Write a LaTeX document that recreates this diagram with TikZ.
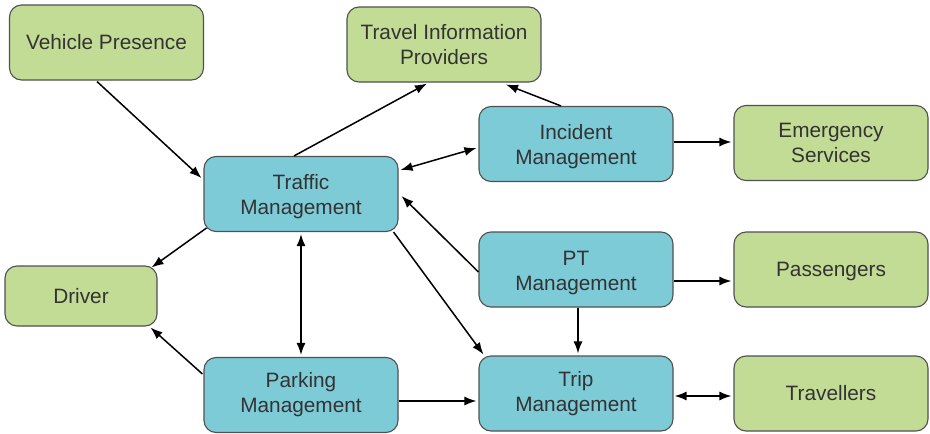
\documentclass[tikz,border=0pt]{standalone}
\usepackage{fontspec}
\setmainfont{Liberation Sans}
\usetikzlibrary{arrows.meta,calc}
\definecolor{boxgreen}{HTML}{C2DC96}
\definecolor{boxblue}{HTML}{7ECBD8}
\definecolor{boxline}{HTML}{505050}
\definecolor{txt}{HTML}{333333}
\newcommand{\highstrut}{\rule{0pt}{20.8pt}}
\tikzset{
  box/.style={draw=boxline, line width=1.1pt, rounded corners=12pt, align=center,
    text=txt, font=\fontsize{20.8}{25}\selectfont, inner sep=0pt,
    minimum width=194pt, minimum height=75pt},
  gbox/.style={box, fill=boxgreen},
  bbox/.style={box, fill=boxblue},
  conn/.style={line width=1.5pt, -{Latex[length=12pt,width=9pt]}},
  conn2/.style={line width=1.5pt, {Latex[length=12pt,width=9pt]}-{Latex[length=12pt,width=9pt]}},
}
\begin{document}
\begin{tikzpicture}[x=1pt,y=-1pt]
\useasboundingbox (0,0) rectangle (930,434);
\node[gbox] (vp) at (106.5,42.5) {Vehicle Presence};
\node[gbox] (tp) at (444,44.5) {Travel Information\\Providers};
\node[bbox] (tm) at (301,194) {\highstrut Traffic\\Management};
\node[bbox] (im) at (576,144) {\highstrut Incident\\Management};
\node[gbox] (es) at (831,143) {Emergency\\Services};
\node[gbox, minimum width=152pt, minimum height=60pt] (dr) at (81,296) {Driver};
\node[bbox] (pt) at (576,269.5) {\highstrut PT\\Management};
\node[gbox] (pa) at (831,269.5) {\rule{0pt}{19pt}Passengers};
\node[bbox] (pk) at (301,395) {Parking\\Management};
\node[bbox] (tr) at (576,393.5) {Trip\\Management};
\node[gbox] (tv) at (831,393.5) {Travellers};

\draw[conn] ($(vp.south)+(-9.5,1)$) -- ($(tm.west)+(-2,-16)$);
\draw[conn] ($(tm.north)+(-7,0)$) -- ($(tp.south)+(-17,1)$);
\draw[conn] ($(im.north)+(-15,0)$) -- ($(tp.south)+(62,2)$);
\draw[conn2] ($(im.west)+(-2,4)$) -- ($(tm.east)+(2,-24)$);
\draw[conn] ($(im.east)+(0,-2)$) -- ($(es.west)+(-2,-1)$);
\draw[conn] ($(pt.west)+(0,2.5)$) -- ($(tm.east)+(3,2)$);
\draw[conn] ($(pt.east)+(0,11.5)$) -- ($(pa.west)+(-2,11.5)$);
\draw[conn] ($(pt.south)+(2,0)$) -- ($(tr.north)+(2,-2)$);
\draw[conn] ($(tm.south west)+(3,-4)$) -- ($(dr.north east)+(-6,2)$);
\draw[conn2] ($(tm.south)+(0,2)$) -- ($(pk.north)+(0,-2)$);
\draw[conn] ($(tm.south east)+(-5,0)$) -- ($(tr.north west)+(5,-1)$);
\draw[conn] ($(pk.west)+(-1,-21)$) -- ($(dr.south east)+(-7,1)$);
\draw[conn] ($(pk.east)+(0,6)$) -- ($(tr.west)+(-2,7.5)$);
\draw[conn2] ($(tr.east)+(1,2.5)$) -- ($(tv.west)+(-2,2.5)$);
\end{tikzpicture}
\end{document}
